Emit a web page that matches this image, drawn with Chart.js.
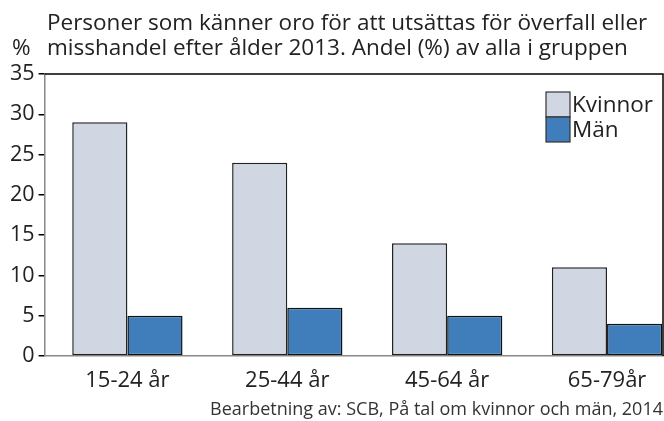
<!DOCTYPE html>
<html>
<head>
<meta charset="utf-8">
<script src="https://cdn.jsdelivr.net/npm/chart.js@4"></script>
<style>
  html,body{margin:0;padding:0;background:#fff;}
  #wrap{width:664px;height:421px;position:relative;}
</style>
</head>
<body>
<div id="wrap"><canvas id="chart"></canvas></div>
<script>
// Data
const ageGroups=['15-24 år','25-44 år','45-64 år','65-79år'];
const kvinnor=[29,24,14,11];
const man=[5,6,5,4];
const yTicks=[0,5,10,15,20,25,30,35];
const titleLines=['Personer som känner oro för att utsättas för överfall eller','misshandel efter ålder 2013. Andel (%) av alla i gruppen'];
const unitLabel='%';
const sourceText='Bearbetning av: SCB, På tal om kvinnor och män, 2014';

const FONT='"Open Sans", "Noto Sans", sans-serif';
const toPoints=arr=>arr.map((v,i)=>({x:i,y:v}));

// title, "%" label, frame (top + right) and legend inside the plot
const extras={
  id:'extras',
  afterDraw(chart){
    const {ctx,chartArea:a}=chart;
    ctx.save();
    ctx.fillStyle='#222';
    ctx.font='22.5px '+FONT;
    ctx.textAlign='left';
    ctx.textBaseline='alphabetic';
    ctx.fillText(titleLines[0],47,30);
    ctx.fillText(titleLines[1],47,55);
    ctx.fillText(unitLabel,12,55);

    ctx.strokeStyle='#000';
    ctx.lineWidth=1.5;
    ctx.beginPath();
    ctx.moveTo(a.left,a.top);ctx.lineTo(a.right,a.top);ctx.lineTo(a.right,a.bottom);
    ctx.stroke();

    // legend
    const bx=a.right-117, by=a.top+18, bw=24, bh=25;
    chart.data.datasets.forEach((ds,i)=>{
      const y=by+i*bh;
      ctx.fillStyle=ds.backgroundColor;
      ctx.fillRect(bx,y,bw,bh);
      ctx.strokeStyle='#333';
      ctx.lineWidth=1.2;
      ctx.strokeRect(bx,y,bw,bh);
      ctx.fillStyle='#222';
      ctx.font='22.5px '+FONT;
      ctx.textAlign='left';
      ctx.textBaseline='middle';
      ctx.fillText(ds.label,bx+bw+2,y+bh/2+1);
    });
    ctx.restore();
  }
};

new Chart(document.getElementById('chart'),{
  type:'bar',
  data:{
    datasets:[
      {label:'Kvinnor',data:toPoints(kvinnor),backgroundColor:'#D0D7E2',borderColor:'#222',borderWidth:1.5,borderSkipped:false},
      {label:'Män',data:toPoints(man),backgroundColor:'#3F7EBA',borderColor:'#111',borderWidth:1.5,borderSkipped:false}
    ]
  },
  options:{
    responsive:true,
    maintainAspectRatio:false,
    animation:false,
    categoryPercentage:0.69,
    barPercentage:1,
    layout:{padding:{left:6,right:1,top:74,bottom:0}},
    plugins:{
      legend:{display:false},
      tooltip:{enabled:false},
      subtitle:{display:true,position:'bottom',align:'end',text:sourceText,color:'#333',font:{family:FONT,size:18,weight:'normal',lineHeight:1.2},padding:{top:1,bottom:0}}
    },
    scales:{
      x:{
        type:'linear',
        offset:false,
        min:-0.518,max:3.35,
        grid:{display:false},
        border:{display:true,color:'#888',width:1.5},
        ticks:{
          stepSize:1,includeBounds:false,autoSkip:false,maxRotation:0,
          padding:4,color:'#222',font:{family:FONT,size:22},
          callback:v=>ageGroups[v]??''
        }
      },
      y:{
        min:0,max:35,
        afterBuildTicks(scale){scale.ticks=yTicks.map(v=>({value:v}));},
        grid:{drawOnChartArea:false,drawTicks:true,tickLength:6,color:'#000',lineWidth:1.5},
        border:{display:true,color:'#888',width:1.5},
        ticks:{padding:4,color:'#222',font:{family:FONT,size:21.5}}
      }
    }
  },
  plugins:[extras]
});
</script>
</body>
</html>
